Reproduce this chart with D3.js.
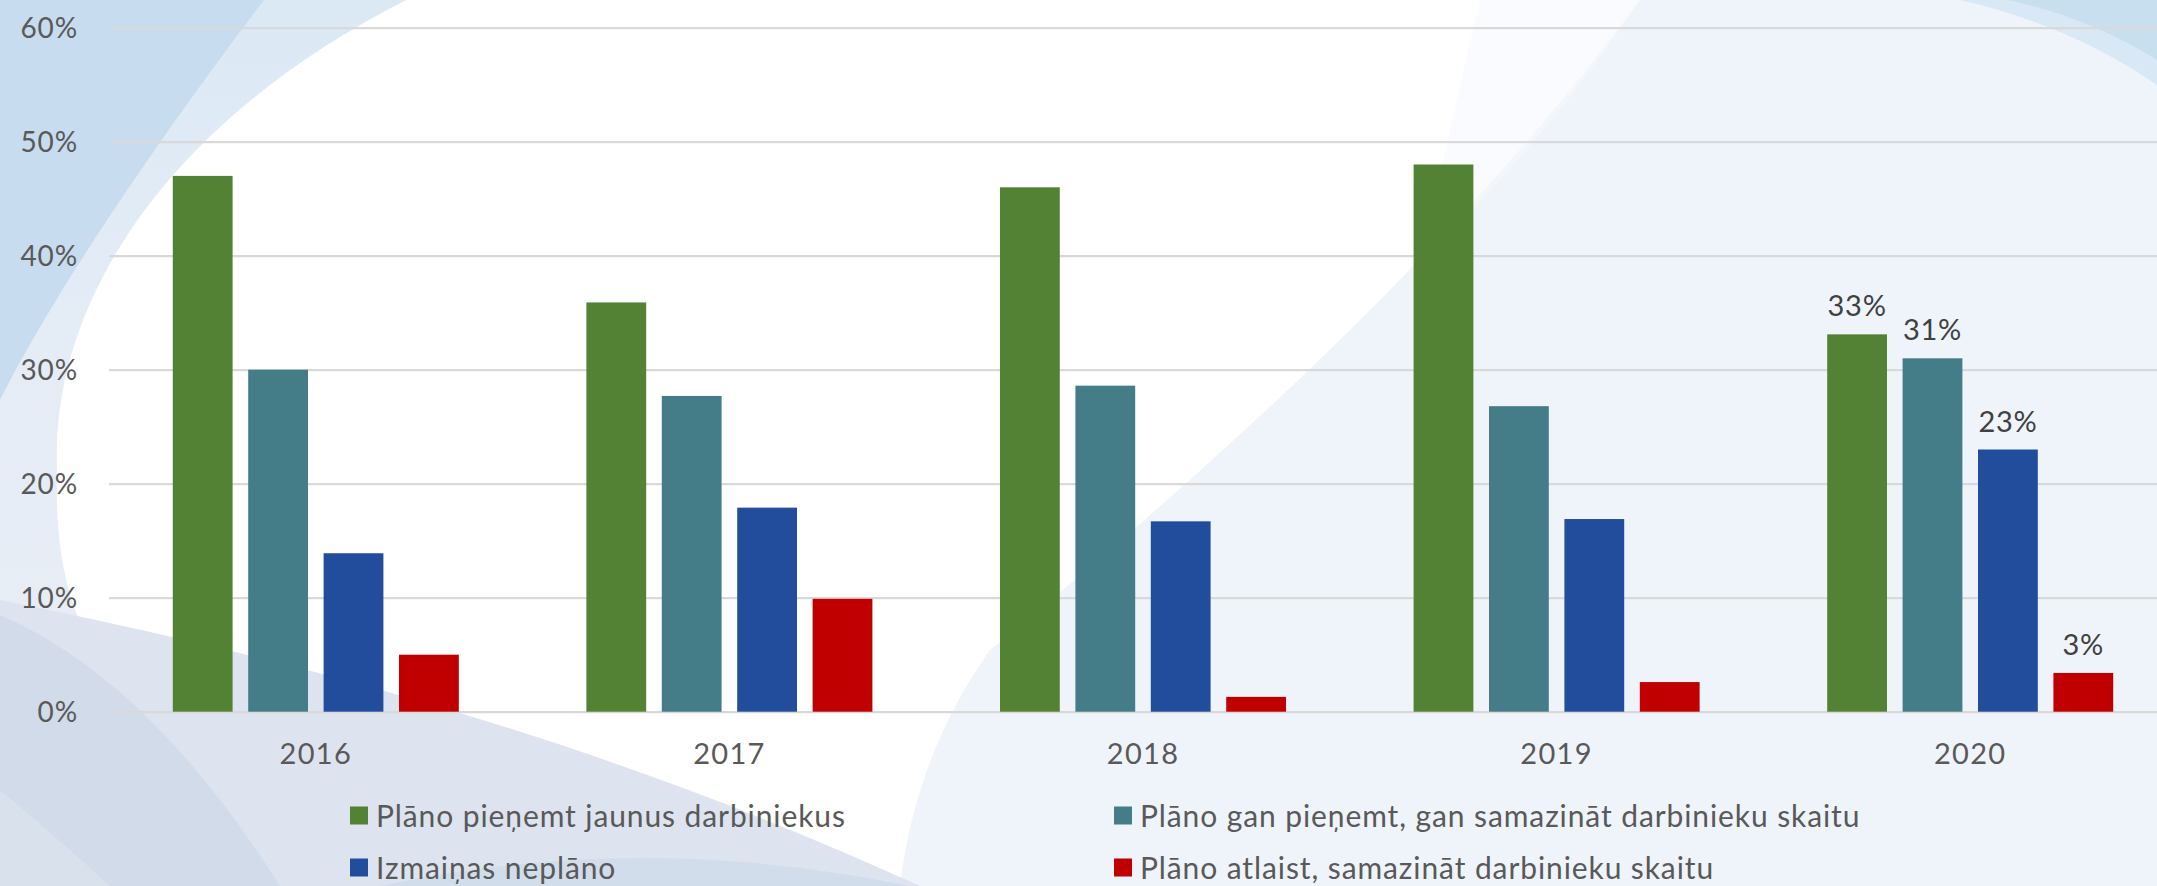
<!DOCTYPE html>
<html>
<head>
<meta charset="utf-8">
<script src="https://cdn.jsdelivr.net/npm/d3@7"></script>
<style>
  body { margin: 0; background: #fff; }
  svg { display: block; font-family: Lato, "Open Sans", sans-serif; }
</style>
</head>
<body>
<svg id="chart" width="2157" height="886"></svg>
<script>
// data (percent)
var years = ["2016", "2017", "2018", "2019", "2020"];
var seriesNames = [
  "Plāno pieņemt jaunus darbiniekus",
  "Plāno gan pieņemt, gan samazināt darbinieku skaitu",
  "Izmaiņas neplāno",
  "Plāno atlaist, samazināt darbinieku skaitu"
];
var hireNew    = [47, 35.9, 46, 48, 33.1];
var hireAndCut = [30, 27.7, 28.6, 26.8, 31];
var noChange   = [13.9, 17.9, 16.7, 16.9, 23];
var layOff     = [5, 9.9, 1.3, 2.6, 3.4];
var seriesColors = ["#548235", "#447c88", "#224d9c", "#c00000"];
var yTicks = [0, 10, 20, 30, 40, 50, 60];
var labelledYear = "2020";

var allSeries = [hireNew, hireAndCut, noChange, layOff];

var W = 2157, H = 886;
var svg = d3.select("#chart");

// background swooshes
var bg = svg.append("g");
var defs = svg.append("defs");
var grad = defs.append("linearGradient").attr("id", "leftband")
  .attr("x1", 0).attr("y1", 0).attr("x2", 0).attr("y2", 1);
grad.append("stop").attr("offset", "0%").attr("stop-color", "#dbe9f5");
grad.append("stop").attr("offset", "50%").attr("stop-color", "#e4ecf6");
grad.append("stop").attr("offset", "100%").attr("stop-color", "#e8edf5");

bg.append("rect").attr("width", W).attr("height", H).attr("fill", "#ffffff");
bg.append("path").attr("fill", "#eff4fb")
  .attr("d", "M1640,0 Q1420,300 990,650 C940,720 910,800 900,886 L2157,886 L2157,0 Z");
bg.append("path").attr("fill", "#f5f8fd")
  .attr("d", "M1640,0 Q1540,150 1420,260 L1480,0 Z").attr("opacity", 0.6);
bg.append("path").attr("fill", "url(#leftband)")
  .attr("d", "M0,0 L406,0 C170,120 50,300 57,470 C55,540 65,600 90,640 L0,640 Z");
bg.append("path").attr("fill", "#c7dcee")
  .attr("d", "M0,0 L264,0 C180,110 60,280 0,400 Z");
bg.append("path").attr("fill", "#dde4ef")
  .attr("d", "M0,600 C300,660 600,740 920,886 L0,886 Z");
bg.append("path").attr("fill", "#d1dbea")
  .attr("d", "M0,615 Q150,680 280,886 L0,886 Z");
bg.append("path").attr("fill", "#d9e1ed")
  .attr("d", "M0,790 Q60,840 110,886 L0,886 Z");
bg.append("path").attr("fill", "#d2ddec")
  .attr("d", "M380,886 Q640,830 910,886 Z");
bg.append("path").attr("fill", "#d8e8f4")
  .attr("d", "M1960,0 Q2070,25 2157,85 L2157,0 Z");
bg.append("path").attr("fill", "#c8dff0")
  .attr("d", "M2008,0 Q2090,18 2157,60 L2157,0 Z");

// scales
var x0 = d3.scaleBand().domain(years).range([109, 2177]);
var x1 = d3.scaleBand().domain(d3.range(seriesNames.length))
  .range([0, x0.bandwidth()]).paddingInner(0.207).paddingOuter(0.846);
var y = d3.scaleLinear().domain([0, 60]).range([711.7, 27.7]);

// gridlines + y labels
var yAxis = svg.append("g")
  .attr("transform", "translate(109,0)")
  .call(d3.axisLeft(y).tickValues(yTicks).tickSize(-(W - 109)).tickFormat(function(d) { return d + "%"; }));
yAxis.select(".domain").remove();
yAxis.selectAll(".tick line").attr("stroke", "#d9d9d9").attr("stroke-width", 2.2);
yAxis.selectAll(".tick text")
  .attr("x", -31).attr("dy", "0.35em")
  .attr("fill", "#595959").attr("font-size", 28).attr("letter-spacing", 0.9)
  .attr("font-family", "Lato");

// bars
var groups = svg.append("g").selectAll("g")
  .data(years).join("g")
  .attr("transform", function(d) { return "translate(" + x0(d) + ",0)"; });

groups.selectAll("rect")
  .data(function(yr, i) { return allSeries.map(function(s, k) { return { k: k, v: s[i], yr: yr }; }); })
  .join("rect")
  .attr("x", function(d) { return x1(d.k); })
  .attr("width", x1.bandwidth())
  .attr("y", function(d) { return y(d.v); })
  .attr("height", function(d) { return y(0) - y(d.v); })
  .attr("fill", function(d) { return seriesColors[d.k]; });

groups.selectAll("text.val")
  .data(function(yr, i) {
    return yr === labelledYear ? allSeries.map(function(s, k) { return { k: k, v: s[i] }; }) : [];
  })
  .join("text").attr("class", "val")
  .attr("x", function(d) { return x1(d.k) + x1.bandwidth() / 2; })
  .attr("y", function(d) { return y(d.v) - 18; })
  .attr("text-anchor", "middle")
  .attr("fill", "#404040").attr("font-size", 29).attr("letter-spacing", 0.7)
  .text(function(d) { return Math.round(d.v) + "%"; });

// x axis labels
var xAxis = svg.append("g")
  .attr("transform", "translate(0,711.7)")
  .call(d3.axisBottom(x0).tickSize(0).tickPadding(0));
xAxis.select(".domain").remove();
xAxis.selectAll(".tick text")
  .attr("y", 52).attr("dy", 0)
  .attr("fill", "#595959").attr("font-size", 29).attr("letter-spacing", 1.3)
  .attr("font-family", "Lato");

// legend
var legendX = [350, 1114], legendY = [826.5, 878.5];
var legend = svg.append("g").selectAll("g")
  .data(seriesNames).join("g")
  .attr("transform", function(d, i) { return "translate(" + legendX[i % 2] + "," + legendY[Math.floor(i / 2)] + ")"; });
legend.append("rect")
  .attr("x", 0).attr("y", -20).attr("width", 18).attr("height", 18)
  .attr("fill", function(d, i) { return seriesColors[i]; });
legend.append("text")
  .attr("x", 26).attr("y", 0)
  .attr("fill", "#595959").attr("font-size", 30).attr("letter-spacing", 0.9)
  .text(function(d) { return d; });
</script>
</body>
</html>
